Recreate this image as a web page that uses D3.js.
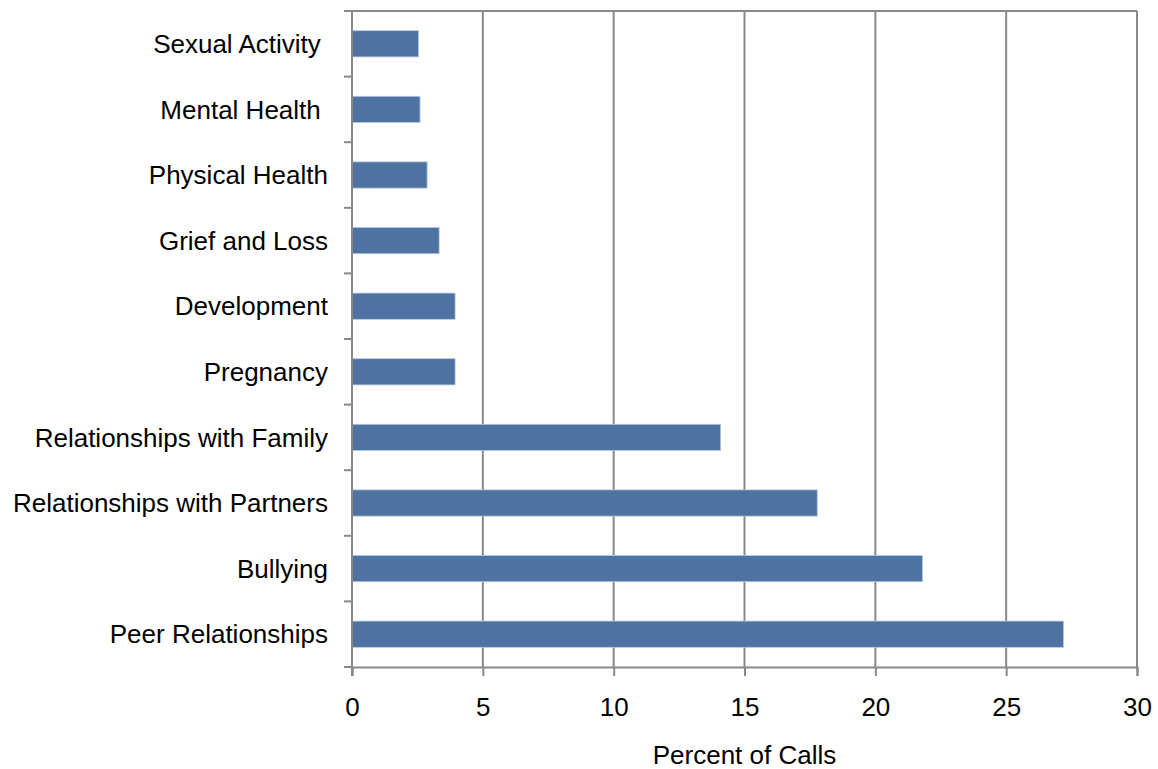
<!DOCTYPE html>
<html><head><meta charset="utf-8">
<script src="https://cdn.jsdelivr.net/npm/d3@7"></script>
<style>body{margin:0;background:#fff}svg{display:block}text{font-family:"Liberation Sans",Arial,sans-serif;fill:#000;white-space:pre}</style>
</head><body>
<script>
const categories = ["Sexual Activity ","Mental Health ","Physical Health","Grief and Loss","Development","Pregnancy","Relationships with Family","Relationships with Partners","Bullying","Peer Relationships"];
const values = [2.54,2.6,2.87,3.33,3.94,3.94,14.09,17.78,21.8,27.19];
const xTicks = [0,5,10,15,20,25,30];
const xTitle = "Percent of Calls";

const W=1158,H=769;
const m={left:352,right:21,top:11,bottom:102};
const svg=d3.select("body").append("svg").attr("width",W).attr("height",H);
const x=d3.scaleLinear().domain([0,30]).range([m.left,W-m.right]);
const y=d3.scaleBand().domain(categories).range([m.top,H-m.bottom]).paddingInner(0.6).paddingOuter(0.3);
const grid="#898989";
const fs="26px";
// gridlines
svg.append("g").selectAll("line").data(xTicks.slice(1)).join("line")
 .attr("x1",d=>x(d)).attr("x2",d=>x(d)).attr("y1",m.top).attr("y2",H-m.bottom)
 .attr("stroke",grid).attr("stroke-width",2);
// top border
svg.append("line").attr("x1",m.left).attr("x2",W-m.right).attr("y1",m.top).attr("y2",m.top).attr("stroke",grid).attr("stroke-width",2);
// bars
svg.append("g").selectAll("rect").data(values).join("rect")
 .attr("x",x(0)).attr("y",(d,i)=>y(categories[i]))
 .attr("width",d=>x(d)-x(0)).attr("height",y.bandwidth())
 .attr("fill","#4e73a2").attr("stroke","#b9c8dd").attr("stroke-width",0.8);
// x axis
const xa=svg.append("g").attr("transform",`translate(0,${H-m.bottom})`)
 .call(d3.axisBottom(x).tickValues(xTicks).tickSize(9).tickPadding(22));
xa.select(".domain").attr("stroke",grid).attr("stroke-width",2);
xa.selectAll(".tick line").attr("stroke",grid).attr("stroke-width",2);
xa.selectAll("text").style("font-size",fs).attr("fill","#000");
// y axis
const ya=svg.append("g").attr("transform",`translate(${m.left},0)`);
ya.append("line").attr("x1",0).attr("x2",0).attr("y1",m.top).attr("y2",H-m.bottom+9).attr("stroke",grid).attr("stroke-width",2);
const bounds=d3.range(categories.length+1).map(i=>m.top+i*(H-m.bottom-m.top)/categories.length);
ya.selectAll(".yt").data(bounds).join("line").attr("class","yt")
 .attr("x1",-8).attr("x2",0).attr("y1",d=>d).attr("y2",d=>d).attr("stroke",grid).attr("stroke-width",2);
ya.selectAll(".yl").data(categories).join("text").attr("class","yl")
 .attr("x",-24).attr("y",d=>y(d)+y.bandwidth()/2).attr("dy","0.35em")
 .attr("text-anchor","end").style("font-size",fs).text(d=>d);
svg.append("text").attr("x",(x(0)+x(30))/2).attr("y",764).attr("text-anchor","middle").style("font-size",fs).text(xTitle);
</script>
</body></html>
